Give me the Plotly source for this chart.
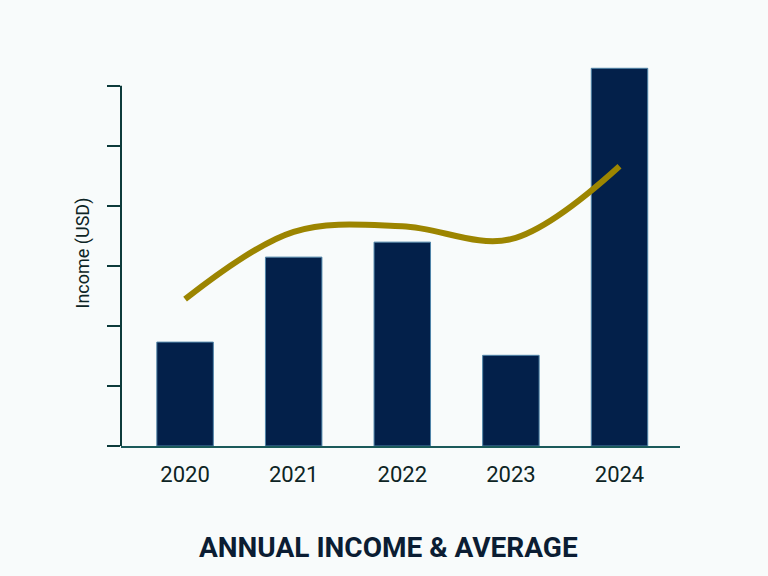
import plotly.graph_objects as go

years = ["2020", "2021", "2022", "2023", "2024"]
income = [17300, 31450, 33950, 15100, 62900]
average = [24450, 35670, 36600, 34450, 46600]
y_ticks = [0, 10000, 20000, 30000, 40000, 50000, 60000]

axis_color = "#0d3b3b"
bg = "#f8fbfb"

fig = go.Figure()
fig.add_trace(go.Bar(
    x=years, y=income, width=0.52,
    marker=dict(color="#03204a", line=dict(color="#4f84a8", width=1)),
    showlegend=False, hoverinfo="skip",
))
fig.add_trace(go.Scatter(
    x=years, y=average, mode="lines",
    line=dict(color="#9c8500", width=6, shape="spline", smoothing=1.0),
    showlegend=False, hoverinfo="skip",
))

fig.add_shape(type="line", xref="paper", yref="y", x0=0, x1=0,
              y0=y_ticks[0], y1=y_ticks[-1],
              line=dict(color=axis_color, width=2), layer="above")

fig.add_annotation(text="<b>ANNUAL INCOME &amp; AVERAGE</b>", xref="paper", yref="paper",
                   x=0.479, y=-0.263, xanchor="center", yanchor="middle", showarrow=False,
                   font=dict(family="Roboto", size=28, color="#0b1d33"))

fig.update_layout(
    width=768, height=576,
    margin=dict(l=121, r=88, t=60, b=130),
    paper_bgcolor=bg, plot_bgcolor=bg,
    font=dict(family="Roboto", color="#0d2424"),
    bargap=0.48,
)
fig.update_xaxes(
    type="category", range=[-0.59, 4.557],
    showline=True, linecolor="#1b5a5a", linewidth=2,
    ticks="", showgrid=False, zeroline=False,
    tickfont=dict(size=22, color="#0d2424"), ticklabelstandoff=8,
)
fig.update_yaxes(
    range=[0, 64280], tickvals=y_ticks, showticklabels=False,
    ticks="outside", ticklen=13, tickwidth=2, tickcolor=axis_color,
    showline=False, showgrid=False, zeroline=False,
    title=dict(text="Income (USD)", font=dict(size=18, color="#0d2424"), standoff=12),
)

fig.write_html("out.html", config={"displayModeBar": False},
               post_script="document.body.style.margin='0';document.body.style.background='%s';" % bg)
